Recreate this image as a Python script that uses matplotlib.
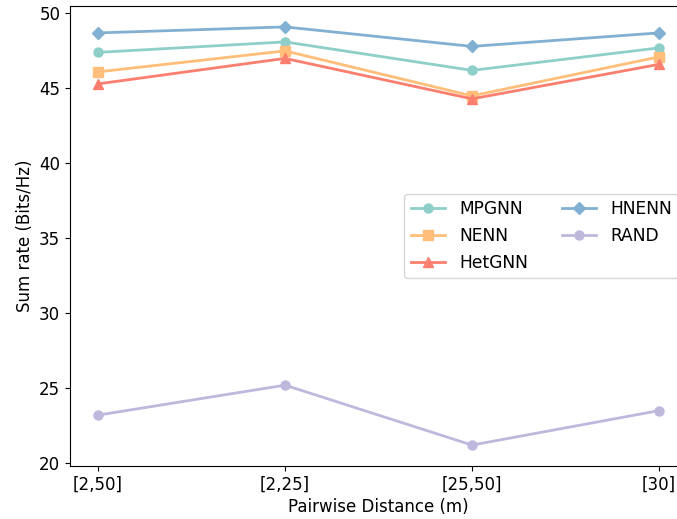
import matplotlib
matplotlib.use("Agg")
import matplotlib.pyplot as plt

categories = ["[2,50]", "[2,25]", "[25,50]", "[30]"]
mpgnn = [47.4, 48.1, 46.2, 47.7]
nenn = [46.1, 47.5, 44.5, 47.1]
hetgnn = [45.3, 47.0, 44.3, 46.6]
hnenn = [48.7, 49.1, 47.8, 48.7]
rand = [23.2, 25.2, 21.2, 23.5]

series = [
    ("MPGNN", mpgnn, "#8ECFC9", "o"),
    ("NENN", nenn, "#FFBE7A", "s"),
    ("HetGNN", hetgnn, "#FA7F6F", "^"),
    ("HNENN", hnenn, "#82B0D2", "D"),
    ("RAND", rand, "#BEB8DC", "o"),
]

plt.rcParams["font.family"] = ["DejaVu Sans"]
plt.rcParams["font.size"] = 12

W, H = 677, 519
fig = plt.figure(figsize=(W / 100, H / 100), dpi=100)
ax = fig.add_axes([70 / W, (H - 466) / H, 617 / W, 460 / H])

x = list(range(len(categories)))
for name, vals, col, mk in series:
    ax.plot(x, vals, color=col, marker=mk, linewidth=2, markersize=6.5, label=name)

ax.set_xticks(x)
ax.set_xticklabels(categories)
ax.set_xlabel("Pairwise Distance (m)", labelpad=3)
ax.set_ylabel("Sum rate (Bits/Hz)")
ax.spines["right"].set_visible(False)
ax.legend(loc="center right", ncol=2, fontsize=12.3)

fig.savefig("out.png", dpi=100)
